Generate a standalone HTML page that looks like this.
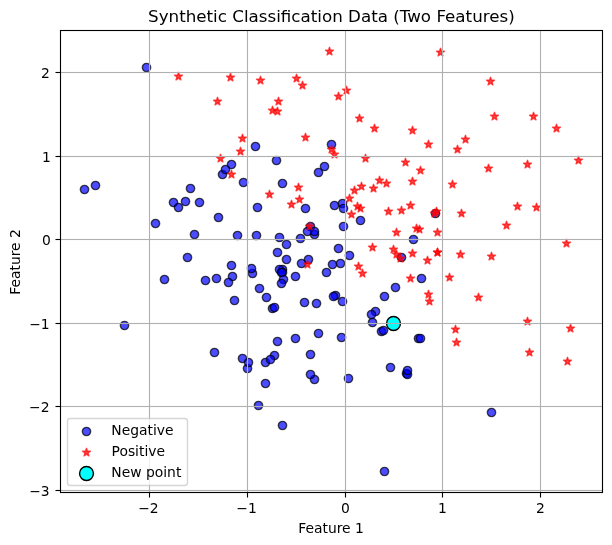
<!DOCTYPE html>
<html lang="en">
<head>
<meta charset="utf-8">
<title>Synthetic Classification Data (Two Features)</title>
<style>
html,body{margin:0;padding:0;background:#ffffff;}
body{width:612px;height:545px;overflow:hidden;}
svg{display:block;}
</style>
</head>
<body>
<svg width="612" height="545" viewBox="0 0 612 545">
<defs>
<clipPath id="axclip"><rect x="60" y="30" width="542" height="462"/></clipPath>
<circle id="mc" r="4.17" fill="#0000ff" fill-opacity="0.7" stroke="#000000" stroke-opacity="0.7" stroke-width="1.39"/>
<path id="ms" d="M0 -4.17 L-0.94 -1.29 L-3.96 -1.29 L-1.51 0.49 L-2.45 3.37 L0 1.59 L2.45 3.37 L1.51 0.49 L3.96 -1.29 L0.94 -1.29 Z" fill="#ff0000" fill-opacity="0.7" stroke="#ff0000" stroke-opacity="0.7" stroke-width="1.39" stroke-linejoin="round"/>
<circle id="mn" r="6.94" fill="#00ffff" stroke="#000000" stroke-width="1.39"/>
</defs>
<rect width="612" height="545" fill="#ffffff"/>
<g clip-path="url(#axclip)">
<g id="negative">
<use href="#mc" x="334.5" y="205.5"/>
<use href="#mc" x="375.5" y="311.5"/>
<use href="#mc" x="95.5" y="185.5"/>
<use href="#mc" x="349.5" y="255.5"/>
<use href="#mc" x="258.5" y="405.5"/>
<use href="#mc" x="310.5" y="226.5"/>
<use href="#mc" x="242.5" y="358.5"/>
<use href="#mc" x="295.5" y="276.5"/>
<use href="#mc" x="222.5" y="174.5"/>
<use href="#mc" x="187.5" y="257.5"/>
<use href="#mc" x="257.5" y="207.5"/>
<use href="#mc" x="295.5" y="338.5"/>
<use href="#mc" x="342.5" y="203.5"/>
<use href="#mc" x="282.5" y="269.5"/>
<use href="#mc" x="279.5" y="269.5"/>
<use href="#mc" x="265.5" y="383.5"/>
<use href="#mc" x="185.5" y="201.5"/>
<use href="#mc" x="256.5" y="235.5"/>
<use href="#mc" x="384.5" y="296.5"/>
<use href="#mc" x="259.5" y="288.5"/>
<use href="#mc" x="314.5" y="234.5"/>
<use href="#mc" x="231.5" y="164.5"/>
<use href="#mc" x="390.5" y="367.5"/>
<use href="#mc" x="304.5" y="302.5"/>
<use href="#mc" x="318.5" y="172.5"/>
<use href="#mc" x="381.5" y="331.5"/>
<use href="#mc" x="277.5" y="252.5"/>
<use href="#mc" x="279.5" y="237.5"/>
<use href="#mc" x="282.5" y="183.5"/>
<use href="#mc" x="401.5" y="257.5"/>
<use href="#mc" x="383.5" y="330.5"/>
<use href="#mc" x="199.5" y="202.5"/>
<use href="#mc" x="255.5" y="146.5"/>
<use href="#mc" x="216.5" y="278.5"/>
<use href="#mc" x="272.5" y="308.5"/>
<use href="#mc" x="335.5" y="295.5"/>
<use href="#mc" x="232.5" y="276.5"/>
<use href="#mc" x="225.5" y="169.5"/>
<use href="#mc" x="247.5" y="368.5"/>
<use href="#mc" x="435.5" y="213.5"/>
<use href="#mc" x="243.5" y="182.5"/>
<use href="#mc" x="266.5" y="297.5"/>
<use href="#mc" x="300.5" y="238.5"/>
<use href="#mc" x="310.5" y="354.5"/>
<use href="#mc" x="282.5" y="425.5"/>
<use href="#mc" x="406.5" y="373.5"/>
<use href="#mc" x="237.5" y="235.5"/>
<use href="#mc" x="218.5" y="217.5"/>
<use href="#mc" x="341.5" y="337.5"/>
<use href="#mc" x="308.5" y="259.5"/>
<use href="#mc" x="407.5" y="374.5"/>
<use href="#mc" x="342.5" y="301.5"/>
<use href="#mc" x="421.5" y="278.5"/>
<use href="#mc" x="252.5" y="273.5"/>
<use href="#mc" x="343.5" y="208.5"/>
<use href="#mc" x="251.5" y="268.5"/>
<use href="#mc" x="194.5" y="234.5"/>
<use href="#mc" x="360.5" y="220.5"/>
<use href="#mc" x="286.5" y="259.5"/>
<use href="#mc" x="205.5" y="280.5"/>
<use href="#mc" x="491.5" y="412.5"/>
<use href="#mc" x="282.5" y="272.5"/>
<use href="#mc" x="332.5" y="264.5"/>
<use href="#mc" x="314.5" y="379.5"/>
<use href="#mc" x="265.5" y="362.5"/>
<use href="#mc" x="395.5" y="287.5"/>
<use href="#mc" x="274.5" y="355.5"/>
<use href="#mc" x="190.5" y="188.5"/>
<use href="#mc" x="228.5" y="282.5"/>
<use href="#mc" x="286.5" y="244.5"/>
<use href="#mc" x="155.5" y="223.5"/>
<use href="#mc" x="314.5" y="231.5"/>
<use href="#mc" x="384.5" y="471.5"/>
<use href="#mc" x="281.5" y="272.5"/>
<use href="#mc" x="146.5" y="67.5"/>
<use href="#mc" x="283.5" y="279.5"/>
<use href="#mc" x="331.5" y="144.5"/>
<use href="#mc" x="305.5" y="208.5"/>
<use href="#mc" x="333.5" y="296.5"/>
<use href="#mc" x="214.5" y="352.5"/>
<use href="#mc" x="234.5" y="300.5"/>
<use href="#mc" x="307.5" y="231.5"/>
<use href="#mc" x="340.5" y="263.5"/>
<use href="#mc" x="338.5" y="248.5"/>
<use href="#mc" x="274.5" y="307.5"/>
<use href="#mc" x="371.5" y="314.5"/>
<use href="#mc" x="231.5" y="265.5"/>
<use href="#mc" x="276.5" y="160.5"/>
<use href="#mc" x="418.5" y="338.5"/>
<use href="#mc" x="420.5" y="338.5"/>
<use href="#mc" x="84.5" y="189.5"/>
<use href="#mc" x="173.5" y="202.5"/>
<use href="#mc" x="277.5" y="341.5"/>
<use href="#mc" x="301.5" y="263.5"/>
<use href="#mc" x="270.5" y="359.5"/>
<use href="#mc" x="281.5" y="283.5"/>
<use href="#mc" x="164.5" y="279.5"/>
<use href="#mc" x="413.5" y="239.5"/>
<use href="#mc" x="343.5" y="226.5"/>
<use href="#mc" x="326.5" y="272.5"/>
<use href="#mc" x="318.5" y="333.5"/>
<use href="#mc" x="372.5" y="322.5"/>
<use href="#mc" x="407.5" y="370.5"/>
<use href="#mc" x="324.5" y="166.5"/>
<use href="#mc" x="178.5" y="207.5"/>
<use href="#mc" x="124.5" y="325.5"/>
<use href="#mc" x="348.5" y="378.5"/>
<use href="#mc" x="248.5" y="362.5"/>
<use href="#mc" x="310.5" y="374.5"/>
<use href="#mc" x="316.5" y="303.5"/>
</g>
<g id="positive">
<use href="#ms" x="517.5" y="206.5"/>
<use href="#ms" x="440.5" y="52.5"/>
<use href="#ms" x="527.5" y="321.5"/>
<use href="#ms" x="437.5" y="252.5"/>
<use href="#ms" x="359.5" y="118.5"/>
<use href="#ms" x="419.5" y="229.5"/>
<use href="#ms" x="388.5" y="211.5"/>
<use href="#ms" x="491.5" y="256.5"/>
<use href="#ms" x="429.5" y="301.5"/>
<use href="#ms" x="567.5" y="361.5"/>
<use href="#ms" x="494.5" y="116.5"/>
<use href="#ms" x="360.5" y="208.5"/>
<use href="#ms" x="465.5" y="139.5"/>
<use href="#ms" x="307.5" y="264.5"/>
<use href="#ms" x="178.5" y="76.5"/>
<use href="#ms" x="351.5" y="214.5"/>
<use href="#ms" x="362.5" y="273.5"/>
<use href="#ms" x="416.5" y="228.5"/>
<use href="#ms" x="456.5" y="342.5"/>
<use href="#ms" x="490.5" y="81.5"/>
<use href="#ms" x="460.5" y="254.5"/>
<use href="#ms" x="240.5" y="151.5"/>
<use href="#ms" x="305.5" y="137.5"/>
<use href="#ms" x="365.5" y="158.5"/>
<use href="#ms" x="379.5" y="180.5"/>
<use href="#ms" x="346.5" y="90.5"/>
<use href="#ms" x="357.5" y="206.5"/>
<use href="#ms" x="529.5" y="352.5"/>
<use href="#ms" x="220.5" y="158.5"/>
<use href="#ms" x="230.5" y="77.5"/>
<use href="#ms" x="533.5" y="116.5"/>
<use href="#ms" x="527.5" y="164.5"/>
<use href="#ms" x="260.5" y="80.5"/>
<use href="#ms" x="437.5" y="252.5"/>
<use href="#ms" x="405.5" y="162.5"/>
<use href="#ms" x="374.5" y="128.5"/>
<use href="#ms" x="302.5" y="85.5"/>
<use href="#ms" x="410.5" y="205.5"/>
<use href="#ms" x="269.5" y="194.5"/>
<use href="#ms" x="361.5" y="186.5"/>
<use href="#ms" x="578.5" y="160.5"/>
<use href="#ms" x="338.5" y="96.5"/>
<use href="#ms" x="455.5" y="329.5"/>
<use href="#ms" x="296.5" y="78.5"/>
<use href="#ms" x="437.5" y="232.5"/>
<use href="#ms" x="461.5" y="213.5"/>
<use href="#ms" x="428.5" y="294.5"/>
<use href="#ms" x="272.5" y="110.5"/>
<use href="#ms" x="396.5" y="254.5"/>
<use href="#ms" x="420.5" y="170.5"/>
<use href="#ms" x="556.5" y="128.5"/>
<use href="#ms" x="452.5" y="184.5"/>
<use href="#ms" x="372.5" y="247.5"/>
<use href="#ms" x="434.5" y="213.5"/>
<use href="#ms" x="566.5" y="243.5"/>
<use href="#ms" x="299.5" y="199.5"/>
<use href="#ms" x="291.5" y="204.5"/>
<use href="#ms" x="231.5" y="174.5"/>
<use href="#ms" x="386.5" y="183.5"/>
<use href="#ms" x="457.5" y="149.5"/>
<use href="#ms" x="358.5" y="266.5"/>
<use href="#ms" x="412.5" y="181.5"/>
<use href="#ms" x="396.5" y="232.5"/>
<use href="#ms" x="536.5" y="207.5"/>
<use href="#ms" x="393.5" y="249.5"/>
<use href="#ms" x="334.5" y="154.5"/>
<use href="#ms" x="277.5" y="111.5"/>
<use href="#ms" x="373.5" y="188.5"/>
<use href="#ms" x="242.5" y="138.5"/>
<use href="#ms" x="412.5" y="130.5"/>
<use href="#ms" x="570.5" y="328.5"/>
<use href="#ms" x="354.5" y="190.5"/>
<use href="#ms" x="217.5" y="101.5"/>
<use href="#ms" x="410.5" y="278.5"/>
<use href="#ms" x="412.5" y="253.5"/>
<use href="#ms" x="331.5" y="149.5"/>
<use href="#ms" x="329.5" y="51.5"/>
<use href="#ms" x="278.5" y="101.5"/>
<use href="#ms" x="449.5" y="277.5"/>
<use href="#ms" x="309.5" y="226.5"/>
<use href="#ms" x="401.5" y="210.5"/>
<use href="#ms" x="478.5" y="297.5"/>
<use href="#ms" x="298.5" y="187.5"/>
<use href="#ms" x="436.5" y="211.5"/>
<use href="#ms" x="427.5" y="260.5"/>
<use href="#ms" x="349.5" y="198.5"/>
<use href="#ms" x="506.5" y="225.5"/>
<use href="#ms" x="400.5" y="258.5"/>
<use href="#ms" x="428.5" y="144.5"/>
<use href="#ms" x="488.5" y="168.5"/>
</g>
<use href="#mn" x="393.5" y="323.5"/>
</g>
<g id="grid" clip-path="url(#axclip)">
<rect x="148" y="30" width="3" height="462" fill="#b0b0b0" fill-opacity="0.055"/>
<rect x="149" y="30" width="1" height="462" fill="#b0b0b0"/>
<rect x="246" y="30" width="3" height="462" fill="#b0b0b0" fill-opacity="0.055"/>
<rect x="247" y="30" width="1" height="462" fill="#b0b0b0"/>
<rect x="344" y="30" width="3" height="462" fill="#b0b0b0" fill-opacity="0.055"/>
<rect x="345" y="30" width="1" height="462" fill="#b0b0b0"/>
<rect x="441" y="30" width="3" height="462" fill="#b0b0b0" fill-opacity="0.055"/>
<rect x="442" y="30" width="1" height="462" fill="#b0b0b0"/>
<rect x="539" y="30" width="3" height="462" fill="#b0b0b0" fill-opacity="0.055"/>
<rect x="540" y="30" width="1" height="462" fill="#b0b0b0"/>
<rect x="60" y="489" width="542" height="3" fill="#b0b0b0" fill-opacity="0.055"/>
<rect x="60" y="490" width="542" height="1" fill="#b0b0b0"/>
<rect x="60" y="405" width="542" height="3" fill="#b0b0b0" fill-opacity="0.055"/>
<rect x="60" y="406" width="542" height="1" fill="#b0b0b0"/>
<rect x="60" y="322" width="542" height="3" fill="#b0b0b0" fill-opacity="0.055"/>
<rect x="60" y="323" width="542" height="1" fill="#b0b0b0"/>
<rect x="60" y="238" width="542" height="3" fill="#b0b0b0" fill-opacity="0.055"/>
<rect x="60" y="239" width="542" height="1" fill="#b0b0b0"/>
<rect x="60" y="155" width="542" height="3" fill="#b0b0b0" fill-opacity="0.055"/>
<rect x="60" y="156" width="542" height="1" fill="#b0b0b0"/>
<rect x="60" y="71" width="542" height="3" fill="#b0b0b0" fill-opacity="0.055"/>
<rect x="60" y="72" width="542" height="1" fill="#b0b0b0"/>
</g>
<g id="ticks">
<rect x="148" y="492.5" width="3" height="5" fill="#000000" fill-opacity="0.055"/>
<rect x="149" y="492.5" width="1" height="5" fill="#000000"/>
<rect x="246" y="492.5" width="3" height="5" fill="#000000" fill-opacity="0.055"/>
<rect x="247" y="492.5" width="1" height="5" fill="#000000"/>
<rect x="344" y="492.5" width="3" height="5" fill="#000000" fill-opacity="0.055"/>
<rect x="345" y="492.5" width="1" height="5" fill="#000000"/>
<rect x="441" y="492.5" width="3" height="5" fill="#000000" fill-opacity="0.055"/>
<rect x="442" y="492.5" width="1" height="5" fill="#000000"/>
<rect x="539" y="492.5" width="3" height="5" fill="#000000" fill-opacity="0.055"/>
<rect x="540" y="492.5" width="1" height="5" fill="#000000"/>
<rect x="55.5" y="489" width="5" height="3" fill="#000000" fill-opacity="0.055"/>
<rect x="55.5" y="490" width="5" height="1" fill="#000000"/>
<rect x="55.5" y="405" width="5" height="3" fill="#000000" fill-opacity="0.055"/>
<rect x="55.5" y="406" width="5" height="1" fill="#000000"/>
<rect x="55.5" y="322" width="5" height="3" fill="#000000" fill-opacity="0.055"/>
<rect x="55.5" y="323" width="5" height="1" fill="#000000"/>
<rect x="55.5" y="238" width="5" height="3" fill="#000000" fill-opacity="0.055"/>
<rect x="55.5" y="239" width="5" height="1" fill="#000000"/>
<rect x="55.5" y="155" width="5" height="3" fill="#000000" fill-opacity="0.055"/>
<rect x="55.5" y="156" width="5" height="1" fill="#000000"/>
<rect x="55.5" y="71" width="5" height="3" fill="#000000" fill-opacity="0.055"/>
<rect x="55.5" y="72" width="5" height="1" fill="#000000"/>
</g>
<g id="labels" font-family="'DejaVu Sans', 'Liberation Sans', sans-serif" font-size="13.89px" fill="#000000">
<text x="148.36" y="513" text-anchor="middle">−2</text>
<text x="246.49" y="513" text-anchor="middle">−1</text>
<text x="345.48" y="513" text-anchor="middle">0</text>
<text x="442.38" y="513" text-anchor="middle">1</text>
<text x="540.35" y="513" text-anchor="middle">2</text>
<text x="49.62" y="496" text-anchor="end">−3</text>
<text x="49.57" y="412" text-anchor="end">−2</text>
<text x="49.69" y="329" text-anchor="end">−1</text>
<text x="50.76" y="245" text-anchor="end">0</text>
<text x="50.86" y="162" text-anchor="end">1</text>
<text x="49.76" y="78" text-anchor="end">2</text>
<text x="331.03" y="533" text-anchor="middle">Feature 1</text>
<text x="19.59" y="261.98" text-anchor="middle" transform="rotate(-90 19.59 261.98)">Feature 2</text>
</g>
<g id="spines">
<rect x="59" y="30" width="3" height="463" fill="#000000" fill-opacity="0.055"/>
<rect x="60" y="30" width="1" height="463" fill="#000000"/>
<rect x="601" y="30" width="3" height="463" fill="#000000" fill-opacity="0.055"/>
<rect x="602" y="30" width="1" height="463" fill="#000000"/>
<rect x="60" y="491" width="543" height="3" fill="#000000" fill-opacity="0.055"/>
<rect x="60" y="492" width="543" height="1" fill="#000000"/>
<rect x="60" y="29" width="543" height="3" fill="#000000" fill-opacity="0.055"/>
<rect x="60" y="30" width="543" height="1" fill="#000000"/>
</g>
<text id="title" x="331.4" y="22" text-anchor="middle" font-family="'DejaVu Sans', 'Liberation Sans', sans-serif" font-size="16.72px" fill="#000000">Synthetic Classification Data (Two Features)</text>
<g id="legend">
<rect x="67.5" y="418.5" width="120" height="67" rx="2.78" ry="2.78" fill="#ffffff" stroke="#cccccc" stroke-width="1.39" opacity="0.8"/>
<use href="#mc" x="86.5" y="431.5"/>
<use href="#ms" x="86.5" y="452.5"/>
<use href="#mn" x="86.5" y="473.5"/>
<g font-family="'DejaVu Sans', 'Liberation Sans', sans-serif" font-size="13.89px" fill="#000000">
<text x="111.31" y="435">Negative</text>
<text x="111.52" y="456">Positive</text>
<text x="111.28" y="477">New point</text>
</g></g>
</svg>
</body>
</html>
